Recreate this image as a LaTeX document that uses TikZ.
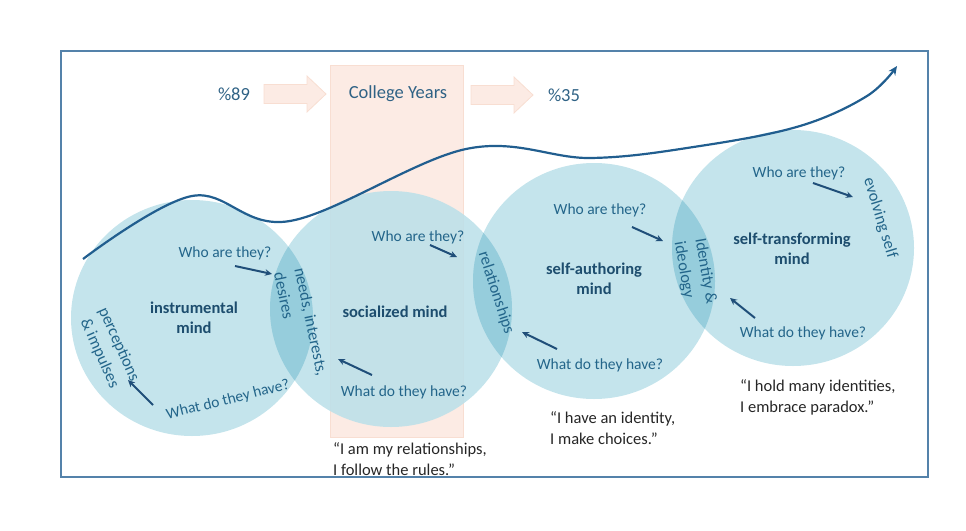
\documentclass[tikz,border=0pt]{standalone}
\usepackage{fontspec}
\setmainfont{Carlito}
\usetikzlibrary{arrows.meta}

\definecolor{circfill}{RGB}{188,224,233}
\definecolor{lensfill}{RGB}{150,205,220}
\definecolor{qblue}{RGB}{35,101,138}
\definecolor{boldblue}{RGB}{29,77,110}
\definecolor{navy}{RGB}{31,78,121}
\definecolor{curveblue}{RGB}{33,94,143}
\definecolor{pinkfill}{RGB}{252,235,228}
\definecolor{pinkline}{RGB}{248,222,210}
\definecolor{framecol}{RGB}{84,130,170}
\definecolor{quotecol}{RGB}{38,38,38}
\definecolor{headcol}{RGB}{47,98,133}

\begin{document}
\begin{tikzpicture}[x=1pt,y=-1pt,
  mindcirc/.style={fill=circfill, fill opacity=0.88},
  lens/.style={fill=lensfill},
  question/.style={text=qblue, font=\fontsize{15.5}{18}\selectfont, inner sep=0pt},
  lenslabel/.style={text=qblue, font=\fontsize{16.5}{21}\selectfont, inner sep=0pt},
  mindlabel/.style={text=boldblue, font=\fontsize{16.5}{19.5}\selectfont\bfseries, align=center, inner sep=0pt},
  quote/.style={text=quotecol, font=\fontsize{16.5}{21}\selectfont, align=left, inner sep=0pt, anchor=west},
  heading/.style={text=headcol, font=\fontsize{18.5}{22}\selectfont, inner sep=0pt},
  pointer/.style={navy, line width=2pt, -{Stealth[length=7pt,width=6.5pt]}},
  blockarrow/.style={fill=pinkfill, draw=pinkline, line width=0.8pt},
  growth/.style={curveblue, line width=2.2pt, -{Stealth[length=9pt,width=8pt]}},
]
\useasboundingbox (0,0) rectangle (966,530);

% outer frame
\draw[framecol, line width=1.5pt] (61,51) rectangle (928,477);

% college years band
\draw[fill=pinkfill, draw=pinkline, line width=0.8pt] (330,65) rectangle (463,437);

% block arrows around the band
\coordinate (ba1) at (264,94);
\coordinate (ba2) at (471,95);
\draw[blockarrow] (ba1) ++(0,-9.5) -- ++(43,0) -- ++(0,-8.5) -- ++(19,18) -- ++(-19,18) -- ++(0,-8.5) -- ++(-43,0) -- cycle;
\draw[blockarrow] (ba2) ++(0,-9.5) -- ++(43,0) -- ++(0,-8.5) -- ++(19,18) -- ++(-19,18) -- ++(0,-8.5) -- ++(-43,0) -- cycle;

\node[heading] (p89) at (234,94) {\%89};
\node[heading] (college) at (398,94) {College Years};
\node[heading] (p35) at (564,95) {\%35};

% the four minds
\coordinate (c1) at (192,318);
\coordinate (c2) at (391,309);
\coordinate (c3) at (594,281);
\coordinate (c4) at (793,248);
\def\mindrx{121pt}
\def\mindry{118pt}
\foreach \c in {c1,c2,c3,c4}
  \fill[mindcirc] (\c) ellipse [x radius=\mindrx, y radius=\mindry];

% overlaps between neighbouring minds
\begin{scope}
  \clip (c1) ellipse [x radius=\mindrx, y radius=\mindry];
  \fill[lens] (c2) ellipse [x radius=\mindrx, y radius=\mindry];
\end{scope}
\begin{scope}
  \clip (c2) ellipse [x radius=\mindrx, y radius=\mindry];
  \fill[lens] (c3) ellipse [x radius=\mindrx, y radius=\mindry];
\end{scope}
\begin{scope}
  \clip (c3) ellipse [x radius=\mindrx, y radius=\mindry];
  \fill[lens] (c4) ellipse [x radius=\mindrx, y radius=\mindry];
\end{scope}

% growth curve
\coordinate (k0) at (83,259);
\coordinate (k1) at (192,196);
\coordinate (k2) at (290,221);
\coordinate (k3) at (466,149);
\coordinate (k4) at (590,158);
\coordinate (k5) at (700,146);
\coordinate (k6) at (800,126);
\coordinate (k7) at (867,96);
\coordinate (k8) at (897,66);
\draw[growth] plot[smooth, tension=0.6] coordinates {(k0) (k1) (k2) (k3) (k4) (k5) (k6) (k7) (k8)};

% mind names
\node[mindlabel] (m1) at (194,318) {instrumental\\mind};
\node[mindlabel] (m2) at (395,312) {socialized mind};
\node[mindlabel] (m3) at (594,279) {self-authoring\\mind};
\node[mindlabel] (m4) at (792,249) {self-transforming\\mind};

% questions
\node[question] (w1) at (225,253) {Who are they?};
\node[question, rotate=14] (h1) at (228,400) {What do they have?};
\node[question] (w2) at (418,237) {Who are they?};
\node[question] (h2) at (404,392) {What do they have?};
\node[question] (w3) at (600,210) {Who are they?};
\node[question] (h3) at (600,365) {What do they have?};
\node[question] (w4) at (799,173) {Who are they?};
\node[question] (h4) at (803,333) {What do they have?};

% labels in the overlaps
\node[lenslabel, rotate=-66, align=center] (l0) at (109,349) {perceptions\\\& impulses};
\node[lenslabel, rotate=-78, align=left] (l1) at (301,324) {needs, interests,\\desires};
\node[lenslabel, rotate=-72] (l2) at (496,293) {relationships};
\node[lenslabel, rotate=-80, align=left] (l3) at (695,273) {Identity \&\\ideology};
\node[lenslabel, rotate=-73] (l4) at (880,218) {evolving self};

% pointers
\coordinate (p1a) at (235,266); \coordinate (p1b) at (272,274);
\coordinate (p2a) at (153,405); \coordinate (p2b) at (128,380);
\coordinate (p3a) at (430,245); \coordinate (p3b) at (457,257);
\coordinate (p4a) at (372,375); \coordinate (p4b) at (338,359);
\coordinate (p5a) at (632,227); \coordinate (p5b) at (663,241);
\coordinate (p6a) at (557,349); \coordinate (p6b) at (522,332);
\coordinate (p7a) at (813,183); \coordinate (p7b) at (853,197);
\coordinate (p8a) at (755,318); \coordinate (p8b) at (730,298);
\draw[pointer] (p1a) -- (p1b);
\draw[pointer] (p2a) -- (p2b);
\draw[pointer] (p3a) -- (p3b);
\draw[pointer] (p4a) -- (p4b);
\draw[pointer] (p5a) -- (p5b);
\draw[pointer] (p6a) -- (p6b);
\draw[pointer] (p7a) -- (p7b);
\draw[pointer] (p8a) -- (p8b);

% quotes
\node[quote] (q2) at (333,459) {“I am my relationships,\\I follow the rules.”};
\node[quote] (q3) at (550,428) {“I have an identity,\\I make choices.”};
\node[quote] (q4) at (740,397) {“I hold many identities,\\I embrace paradox.”};
\end{tikzpicture}
\end{document}
